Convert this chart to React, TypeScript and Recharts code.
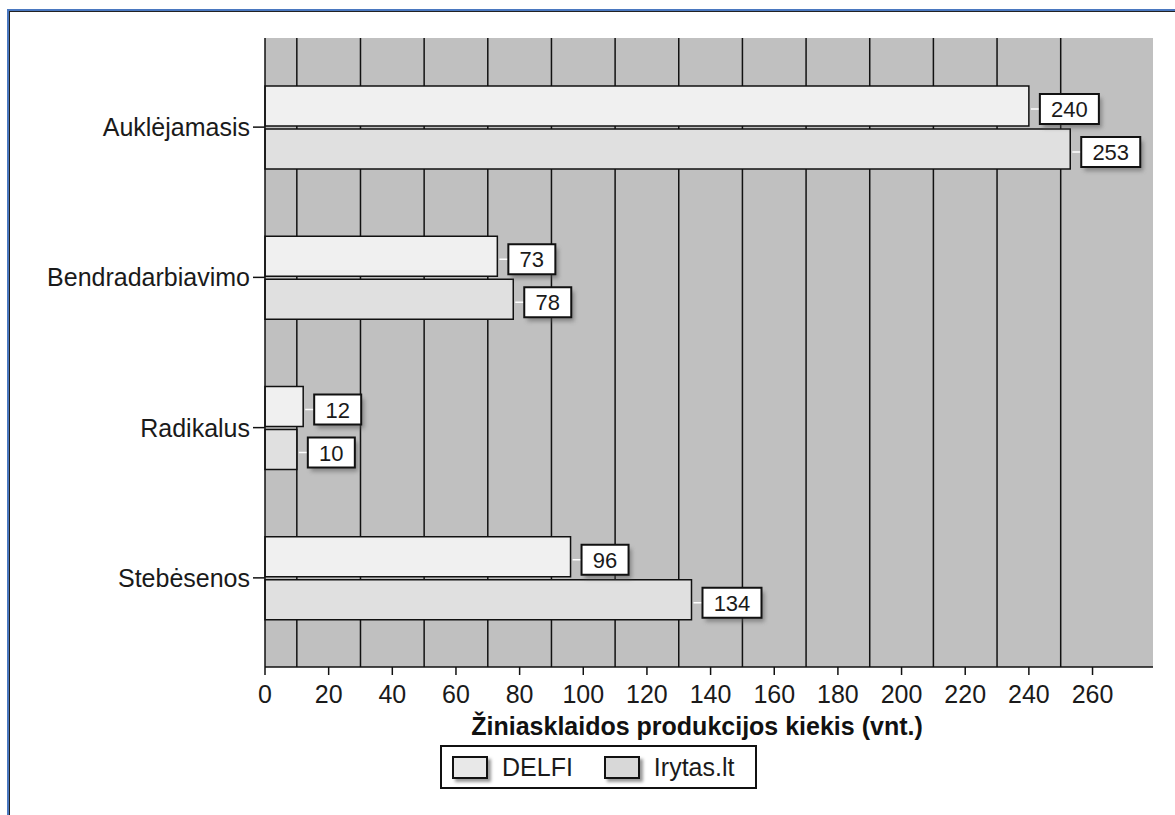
import React from 'react';
import {
  BarChart,
  Bar,
  XAxis,
  YAxis,
  CartesianGrid,
  Legend,
  LabelList,
} from 'recharts';

const categories = ['Auklėjamasis', 'Bendradarbiavimo', 'Radikalus', 'Stebėsenos'];
const delfiValues = [240, 73, 12, 96];
const irytasValues = [253, 78, 10, 134];
const xTicks = [0, 20, 40, 60, 80, 100, 120, 140, 160, 180, 200, 220, 240, 260];
const gridValues = [10, 30, 50, 70, 90, 110, 130, 150, 170, 190, 210, 230, 250];
const xMax = 279;
const axisTitle = 'Žiniasklaidos produkcijos kiekis (vnt.)';

const data = categories.map((name, i) => ({
  name,
  delfi: delfiValues[i],
  irytas: irytasValues[i],
}));

const FONT = 'Arial, "Liberation Sans", sans-serif';
const COLORS = {
  delfi: '#f0f0f0',
  irytas: '#e0e0e0',
  plot: '#c0c0c0',
  edge: '#7a7a7a',
  line: '#111111',
  text: '#1a1a1a',
};

// value box to the right of each bar, with a small white leader and a soft shadow
function ValueBox(props: any) {
  const { x, y, width, height, value } = props;
  const digits = String(value).length;
  const boxW = 23 + 12 * digits;
  const boxH = 30;
  const bx = x + width + 11;
  const cy = y + height / 2 + 3;
  const by = cy - boxH / 2;
  return (
    <g>
      <line x1={x + width + 2} x2={bx} y1={cy} y2={cy} stroke="#ffffff" strokeWidth={1.5} />
      <rect x={bx + 3} y={by + 4} width={boxW} height={boxH} fill="#555" opacity={0.55} filter="url(#boxShadow)" />
      <rect x={bx} y={by} width={boxW} height={boxH} fill="#ffffff" stroke={COLORS.line} strokeWidth={2} />
      <text
        x={bx + boxW / 2}
        y={cy + 8}
        textAnchor="middle"
        fontSize={22}
        fontFamily={FONT}
        fill={COLORS.text}
      >
        {value}
      </text>
    </g>
  );
}

function AxisTitle(props: any) {
  const vb = props.viewBox || {};
  return (
    <text
      x={vb.x + vb.width / 2 - 12}
      y={vb.y + 68}
      textAnchor="middle"
      fontSize={25}
      fontWeight="bold"
      fontFamily={FONT}
      fill={COLORS.line}
    >
      {axisTitle}
    </text>
  );
}

function LegendBox() {
  const items = [
    { label: 'DELFI', swatch: '#e8e8e8' },
    { label: 'Irytas.lt', swatch: '#d8d8d8' },
  ];
  return (
    <div
      style={{
        display: 'flex',
        alignItems: 'center',
        boxSizing: 'border-box',
        width: 317,
        height: 44,
        border: `2px solid ${COLORS.line}`,
        background: '#fff',
        paddingLeft: 10,
        fontFamily: FONT,
        fontSize: 25,
        color: COLORS.text,
      }}
    >
      {items.map((it, i) => (
        <div key={it.label} style={{ display: 'flex', alignItems: 'center', marginLeft: i === 0 ? 0 : 31 }}>
          <span
            style={{
              display: 'inline-block',
              boxSizing: 'border-box',
              width: 36,
              height: 23,
              background: it.swatch,
              border: `2px solid ${COLORS.line}`,
              boxShadow: '3px 3px 3px #999',
              marginRight: 14,
            }}
          />
          <span style={{ lineHeight: '25px' }}>{it.label}</span>
        </div>
      ))}
    </div>
  );
}

export default function App() {
  return (
    <div
      style={{
        position: 'absolute',
        left: 0,
        top: 0,
        width: 1175,
        height: 815,
        background: '#ffffff',
        overflow: 'hidden',
        fontFamily: FONT,
      }}
    >
      {/* window frame */}
      <div
        style={{
          position: 'absolute',
          left: 7,
          top: 9,
          right: -10,
          bottom: -10,
          borderLeft: '2px solid #4a78c0',
          borderTop: '2px solid #4a78c0',
        }}
      >
        <div
          style={{
            position: 'absolute',
            left: 0,
            top: 0,
            right: 0,
            bottom: 0,
            borderLeft: '1px solid #222',
            borderTop: '1px solid #222',
          }}
        />
      </div>

      <div style={{ position: 'absolute', left: 0, top: 0 }}>
        <BarChart
          width={1175}
          height={815}
          data={data}
          layout="vertical"
          margin={{ top: 38, right: 22, bottom: 118, left: 15 }}
          barSize={40}
          barGap={3}
        >
          <defs>
            <filter id="boxShadow" x="-20%" y="-20%" width="140%" height="140%">
              <feGaussianBlur stdDeviation="2" />
            </filter>
          </defs>
          <CartesianGrid
            horizontal={false}
            verticalValues={gridValues}
            stroke={COLORS.line}
            strokeWidth={1.5}
            fill={COLORS.plot}
            fillOpacity={1}
          />
          <XAxis
            type="number"
            domain={[0, xMax]}
            ticks={xTicks}
            interval={0}
            height={30}
            tickSize={8}
            tickMargin={10}
            axisLine={{ stroke: COLORS.line, strokeWidth: 1.5 }}
            tickLine={{ stroke: COLORS.line, strokeWidth: 1.5 }}
            tick={{ fontSize: 25, fill: COLORS.text, fontFamily: FONT }}
            label={<AxisTitle />}
          />
          {/* thin grey frame on the top and right of the plot */}
          <XAxis
            xAxisId="top"
            orientation="top"
            type="number"
            domain={[0, xMax]}
            height={0}
            tick={false}
            tickLine={false}
            axisLine={{ stroke: COLORS.edge, strokeWidth: 1 }}
          />
          <YAxis
            type="category"
            dataKey="name"
            width={250}
            padding={{ top: 14, bottom: 14 }}
            tickSize={12}
            tickMargin={3}
            axisLine={{ stroke: COLORS.line, strokeWidth: 1.5 }}
            tickLine={{ stroke: COLORS.line, strokeWidth: 1.5 }}
            tick={{ fontSize: 25, fill: COLORS.text, fontFamily: FONT }}
          />
          <YAxis
            yAxisId="right"
            orientation="right"
            type="category"
            dataKey="name"
            width={0}
            tick={false}
            tickLine={false}
            axisLine={{ stroke: COLORS.edge, strokeWidth: 1 }}
          />
          <Legend
            layout="horizontal"
            verticalAlign="middle"
            align="center"
            content={<LegendBox />}
            wrapperStyle={{ left: 440, top: 745, width: 317, height: 44 }}
          />
          <Bar
            dataKey="delfi"
            name="DELFI"
            fill={COLORS.delfi}
            stroke={COLORS.line}
            strokeWidth={1.5}
            isAnimationActive={false}
          >
            <LabelList dataKey="delfi" content={<ValueBox />} />
          </Bar>
          <Bar
            dataKey="irytas"
            name="Irytas.lt"
            fill={COLORS.irytas}
            stroke={COLORS.line}
            strokeWidth={1.5}
            isAnimationActive={false}
          >
            <LabelList dataKey="irytas" content={<ValueBox />} />
          </Bar>
        </BarChart>
      </div>
    </div>
  );
}
